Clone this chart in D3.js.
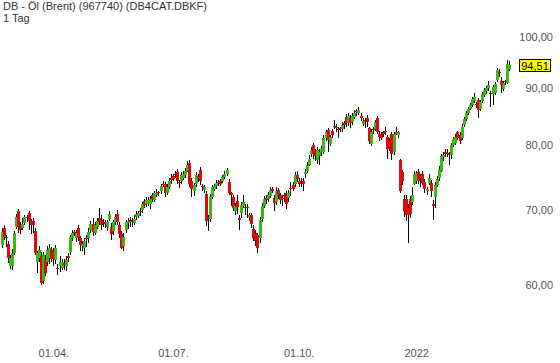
<!DOCTYPE html>
<html><head><meta charset="utf-8">
<script src="https://cdn.jsdelivr.net/npm/d3@7"></script>
<style>body{margin:0;background:#fff}svg{display:block}</style>
</head><body>
<script>
const title = "DB - Öl (Brent) (967740) (DB4CAT.DBKF)";
const subtitle = "1 Tag";
const xTickIndex = [25, 83, 144, 201];
const xTickLabels = ["01.04.", "01.07.", "01.10.", "2022"];
const yTicks = [60, 70, 80, 90, 100];
const lastLabel = "94,51";

const opens = [65.3,67.6,66.4,65.4,62.5,62.5,64.3,67.8,70.0,68.1,67.6,68.3,69.2,69.8,68.6,68.6,67.2,63.0,63.6,63.8,60.7,63.5,63.0,63.6,64.6,64.5,63.3,62.3,62.6,62.3,62.9,62.5,63.8,64.4,66.3,67.1,66.3,67.6,66.2,65.2,64.9,66.3,66.3,67.4,68.2,67.0,67.8,69.0,68.8,68.4,
68.4,67.7,68.9,67.8,67.25,68.4,69.6,68.0,66.8,65.2,67.3,68.3,68.7,68.6,68.35,69.2,69.3,70.0,70.2,71.5,71.1,71.1,71.1,72.3,71.7,72.3,72.8,73.0,74.1,74.1,72.7,73.5,75.0,75.3,75.6,75.9,74.3,74.5,75.0,75.4,76.1,77.3,74.5,73.0,74.05,75.2,76.2,73.7,73.1,72.5,
69.1,68.9,72.0,73.2,73.7,74.3,74.5,74.5,75.1,75.6,74.4,72.6,72.1,70.1,71.5,69.0,69.8,70.8,70.6,70.6,69.1,69.4,67.5,67.0,66.6,66.3,68.9,70.8,71.9,71.8,72.2,73.2,71.95,71.4,73.1,72.3,71.95,72.3,72.6,71.9,73.4,73.8,74.05,75.4,74.5,74.4,74.5,75.6,76.1,77.0,
78.8,80.2,79.3,77.8,78.4,79.0,79.1,81.3,82.7,80.4,82.5,83.4,83.3,82.9,83.0,82.9,83.9,85.0,83.9,84.8,84.1,85.0,86.0,85.7,85.2,83.8,84.4,84.8,83.0,80.4,82.9,82.9,84.8,82.1,82.0,82.3,82.6,81.6,80.9,82.0,79.0,82.4,81.9,77.8,75.8,71.8,71.8,70.4,71.8,71.4,
74.05,74.5,75.9,75.2,75.6,74.4,73.0,74.2,74.2,71.0,72.0,73.9,74.9,76.1,78.2,79.0,78.9,78.7,78.5,80.2,80.6,82.3,81.9,81.4,83.6,84.6,85.7,86.4,87.1,87.8,87.3,88.0,86.4,87.8,88.9,89.6,90.1,89.2,89.0,89.2,91.7,93.1,91.5,90.0,91.4,91.1,93.7];
const highs = [67.6,68.0,66.6,65.8,64.0,64.8,67.2,69.6,70.3,68.4,69.0,69.4,69.5,70.0,68.9,69.0,67.6,64.5,65.2,64.4,64.4,64.0,65.2,65.5,65.0,64.9,65.3,62.8,63.8,63.5,63.4,63.8,64.3,66.7,67.4,67.4,67.3,68.0,66.5,65.8,66.2,66.7,67.6,68.6,69.0,68.4,69.0,70.4,69.4,68.9,
68.8,68.8,70.0,68.3,68.8,69.6,70.2,68.4,67.2,66.9,68.8,69.0,69.2,69.0,69.4,70.0,70.1,70.4,71.4,71.8,72.0,72.1,72.2,72.6,73.0,73.2,73.0,74.0,74.5,74.4,74.0,75.0,75.5,75.6,76.0,76.3,74.6,75.8,76.0,76.5,77.6,77.7,75.0,74.2,75.8,75.6,76.6,74.0,73.8,73.0,
69.4,72.5,73.8,74.0,74.6,74.6,74.8,75.4,76.0,76.5,74.8,72.8,72.4,71.2,72.3,69.4,71.3,72.3,71.0,71.0,69.8,69.8,68.0,67.3,67.0,69.2,71.2,72.2,72.3,72.8,73.5,73.5,72.3,73.5,73.4,72.6,72.4,72.6,73.0,73.1,74.4,74.3,75.9,76.0,74.9,75.0,74.9,76.3,77.4,78.5,
79.8,80.6,79.6,79.8,79.5,80.0,81.8,82.7,83.0,81.9,82.9,84.5,83.7,83.3,83.3,84.0,84.2,85.4,85.7,85.3,85.6,86.1,86.4,86.8,85.6,84.7,84.8,85.3,83.3,82.8,83.2,84.4,85.2,82.5,82.4,82.6,83.2,81.9,81.3,82.4,82.4,83.2,82.6,78.0,76.2,72.4,72.4,71.0,72.2,73.5,
76.0,76.0,76.3,75.6,76.0,74.8,73.6,75.5,74.6,71.6,74.3,75.2,76.8,78.8,79.0,79.6,79.5,79.1,80.5,81.6,82.0,82.6,82.4,83.7,85.0,86.0,86.8,87.5,88.6,89.3,87.6,88.4,88.0,89.5,90.2,90.5,91.4,89.6,90.8,91.2,94.0,93.8,92.2,91.5,91.7,95.5,95.3];
const lows = [64.9,66.0,65.0,62.9,62.2,62.0,64.0,67.5,67.0,66.8,67.3,68.0,68.4,67.3,66.8,67.0,64.0,61.7,63.0,60.1,60.3,61.3,62.6,62.8,63.0,62.5,62.8,61.4,61.8,62.0,62.0,61.9,63.0,64.0,65.9,66.5,65.7,65.8,64.5,64.5,64.0,65.0,65.6,66.9,66.5,66.6,67.5,68.0,67.4,67.8,
67.6,67.2,68.6,66.0,66.6,68.0,68.0,66.3,64.8,64.5,67.0,67.5,67.8,67.7,68.0,68.8,69.0,69.3,69.8,70.5,70.6,70.8,70.3,71.4,71.3,72.0,72.2,72.5,73.5,72.0,72.3,73.2,74.0,74.5,75.0,74.1,73.4,74.0,74.6,75.0,75.8,73.6,72.0,72.2,73.6,74.4,73.8,73.0,72.7,67.9,
67.25,68.5,71.8,72.9,73.3,73.7,73.7,74.2,74.8,75.3,72.3,70.8,70.0,69.4,69.6,67.3,69.0,70.4,69.4,69.0,68.6,67.6,65.9,65.2,64.2,65.6,68.5,70.4,71.0,71.4,71.9,72.6,70.1,70.9,71.8,71.0,70.8,71.4,70.3,71.4,72.2,72.9,73.6,74.4,73.6,73.5,73.0,75.0,75.7,76.8,
78.2,78.0,77.6,77.2,76.9,78.4,78.8,80.9,79.0,80.0,81.3,82.8,82.4,81.3,82.3,82.4,82.9,83.2,83.4,83.0,83.6,84.6,85.2,85.3,84.2,83.4,83.0,83.3,80.4,80.0,82.0,82.5,82.0,80.8,81.0,81.5,81.9,78.0,79.3,77.8,78.5,81.8,81.4,72.6,73.8,69.2,68.6,65.6,69.0,70.9,
73.8,74.0,74.0,73.5,73.8,72.6,72.3,73.8,72.0,68.8,70.4,73.6,74.5,75.8,77.6,78.2,78.3,76.9,78.0,79.8,80.2,81.0,80.3,81.0,83.2,84.3,85.3,86.1,86.8,87.4,86.5,84.8,86.0,87.4,88.5,89.1,89.6,86.7,87.0,88.8,91.3,92.2,89.3,89.6,90.8,90.9,93.4];
const closes = [67.1,66.4,66.2,63.6,63.6,64.3,66.9,69.2,67.8,67.4,68.2,69.1,69.0,68.6,68.0,68.0,64.3,64.3,64.6,60.4,64.0,61.7,64.6,64.9,63.5,63.5,64.9,62.1,63.0,63.0,62.7,63.3,63.6,66.4,66.9,66.9,66.9,66.3,65.3,65.4,65.8,66.1,67.1,68.2,67.1,68.0,68.6,68.5,68.0,68.3,
68.2,68.4,69.6,66.8,68.4,69.2,68.4,66.8,64.9,66.4,68.4,68.65,68.5,68.5,68.9,69.6,69.7,69.9,71.1,70.95,71.7,71.7,71.8,71.8,72.6,72.7,72.6,73.7,73.9,72.6,73.6,74.5,74.7,74.8,75.5,74.5,74.2,75.4,75.6,76.1,77.0,74.05,73.2,73.8,75.4,75.0,74.5,73.5,73.5,68.65,
68.9,72.1,73.5,73.7,74.2,74.2,74.05,75.1,75.6,76.2,72.6,72.4,70.4,70.8,70.6,68.8,70.95,71.4,70.5,70.4,69.4,68.2,66.2,65.9,64.9,68.8,70.8,71.8,71.7,72.4,73.1,73.0,71.2,73.0,72.4,71.7,71.8,72.1,71.1,72.7,73.2,73.3,75.4,74.8,74.05,74.2,74.05,75.9,77.0,78.0,
79.4,78.8,78.4,79.4,79.1,79.6,81.4,82.3,81.1,81.6,81.9,83.2,83.1,82.7,82.8,83.6,83.5,83.9,85.2,83.9,85.2,85.7,85.8,86.2,84.7,84.3,84.2,84.1,80.9,82.4,82.7,84.0,82.4,81.6,81.4,82.1,82.4,79.6,79.9,78.8,82.1,82.1,82.3,73.0,74.5,70.1,69.5,69.5,69.6,72.3,
75.6,75.7,74.5,75.0,74.2,73.3,73.3,75.0,73.0,70.8,73.9,74.8,76.4,78.4,78.6,78.8,78.7,78.5,80.2,81.2,81.6,81.4,80.9,83.3,84.6,85.7,86.4,87.1,88.2,88.6,87.1,86.2,87.6,89.0,89.8,90.1,90.7,89.0,90.3,90.9,93.6,92.9,90.7,91.1,91.2,94.7,94.51];

const W = 560, H = 363;
const FONT = "'Liberation Sans', Arial, sans-serif";
const GREEN = "#3cb815", RED = "#e10a0a";

const svg = d3.select("body").append("svg").attr("width", W).attr("height", H);
const n = closes.length;
const data = d3.range(n).map(i => ({i, o: opens[i], h: highs[i], l: lows[i], c: closes[i]}));

const x = d3.scaleLinear().domain([0, n - 1]).range([1.8, 509]);
const y = d3.scaleLog().domain([60, 100]).range([286.2, 37.65]);

// wicks
svg.append("g").selectAll("line").data(data).join("line")
  .attr("x1", d => Math.round(x(d.i)) + 0.5).attr("x2", d => Math.round(x(d.i)) + 0.5)
  .attr("y1", d => y(d.h)).attr("y2", d => y(d.l))
  .attr("stroke", "#000").attr("stroke-width", 1).attr("shape-rendering", "crispEdges");

// bodies
svg.append("g").selectAll("rect").data(data).join("rect")
  .attr("x", d => Math.round(x(d.i)) - 1)
  .attr("width", 3)
  .attr("y", d => y(Math.max(d.o, d.c)))
  .attr("height", d => Math.max(1, Math.abs(y(d.o) - y(d.c))))
  .attr("fill", d => d.c >= d.o ? GREEN : RED)
  .attr("shape-rendering", "crispEdges");

// y axis (right side labels)
const yAxis = d3.axisLeft(y).tickValues(yTicks).tickSize(0).tickPadding(0)
  .tickFormat(d => d3.format(".2f")(d).replace(".", ","));
const gy = svg.append("g").attr("transform", "translate(553,-1)").call(yAxis);
gy.select(".domain").remove();
gy.selectAll("text").attr("font-family", FONT).attr("font-size", 11).attr("fill", "#555");

// x axis
const xAxis = d3.axisBottom(x).tickValues(xTickIndex).tickSize(0).tickPadding(0)
  .tickFormat((d, k) => xTickLabels[k]);
const gx = svg.append("g").attr("transform", "translate(0,349)").call(xAxis);
gx.select(".domain").remove();
gx.selectAll("text").attr("font-family", FONT).attr("font-size", 11).attr("fill", "#555");

// last price label
const ly = y(closes[n - 1]);
svg.append("rect").attr("x", 519.5).attr("y", Math.round(ly) - 5.5).attr("width", 31).attr("height", 12)
  .attr("fill", "#ffff00").attr("stroke", "#000").attr("stroke-width", 1);
svg.append("text").attr("x", 535).attr("y", Math.round(ly) + 4.5).attr("text-anchor", "middle")
  .attr("font-family", FONT).attr("font-size", 11).attr("fill", "#000").text(lastLabel);

// title
svg.append("text").attr("x", 3).attr("y", 10).attr("font-family", FONT).attr("font-size", 11)
  .attr("fill", "#333").text(title);
svg.append("text").attr("x", 3).attr("y", 22).attr("font-family", FONT).attr("font-size", 11)
  .attr("fill", "#333").text(subtitle);
</script>
</body></html>
